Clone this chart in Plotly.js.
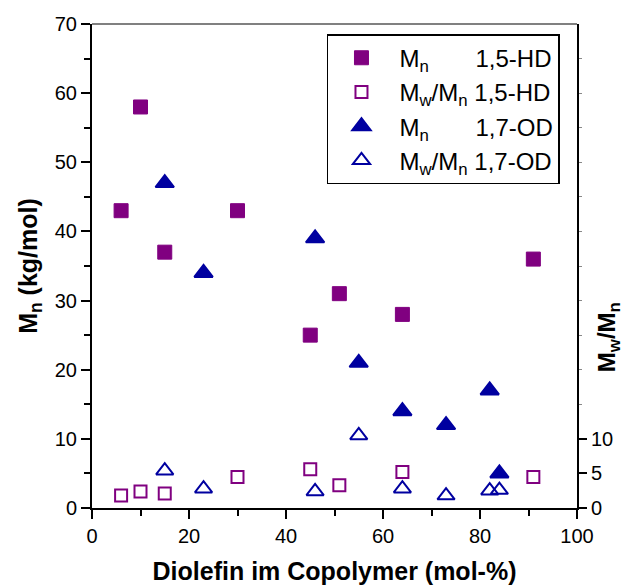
<!DOCTYPE html>
<html>
<head>
<meta charset="utf-8">
<script src="https://cdn.plot.ly/plotly-3.0.1.min.js"></script>
<style>html,body{margin:0;padding:0;background:#fff}#chart{width:626px;height:588px}</style>
</head>
<body>
<div id="chart"></div>
<script>
// Data
const xHD = [6, 10, 15, 30, 45, 51, 64, 91];
const mnHD = [43, 58, 37, 43, 25, 31, 28, 36];
const pdiHD = [1.8, 2.4, 2.1, 4.5, 5.6, 3.3, 5.2, 4.5];
const xOD = [15, 23, 46, 55, 64, 73, 82, 84];
const mnOD = [47, 34, 39, 21, 14, 12, 17, 5];
const pdiOD = [5.4, 2.8, 2.4, 10.5, 2.8, 1.8, 2.5, 2.6];
const names = [
  'M<sub>n</sub>&nbsp;&nbsp;&nbsp;&nbsp;&nbsp;&nbsp; 1,5-HD',
  'M<sub>w</sub>/M<sub>n</sub> 1,5-HD',
  'M<sub>n</sub>&nbsp;&nbsp;&nbsp;&nbsp;&nbsp;&nbsp; 1,7-OD',
  'M<sub>w</sub>/M<sub>n</sub> 1,7-OD'
];
const leftTicks = [0, 10, 20, 30, 40, 50, 60, 70];
const rightTicks = [0, 5, 10];
const xTicks = [0, 20, 40, 60, 80, 100];

const PURPLE = '#800080';
const NAVY = '#0000A0';
const FONT = 'Liberation Sans, Arial, sans-serif';

const traces = [
  {x: xHD, y: mnHD, name: names[0], type: 'scatter', mode: 'markers', yaxis: 'y',
   marker: {symbol: 'square', size: 14, color: PURPLE, line: {color: PURPLE, width: 1}}},
  {x: xHD, y: pdiHD, name: names[1], type: 'scatter', mode: 'markers', yaxis: 'y2',
   marker: {symbol: 'square-open', size: 12, color: PURPLE, line: {color: PURPLE, width: 2}}},
  {x: xOD, y: mnOD, name: names[2], type: 'scatter', mode: 'markers', yaxis: 'y',
   marker: {symbol: 'triangle-up', size: 16, color: NAVY, line: {color: NAVY, width: 2}}},
  {x: xOD, y: pdiOD, name: names[3], type: 'scatter', mode: 'markers', yaxis: 'y2',
   marker: {symbol: 'triangle-up-open', size: 15, color: NAVY, line: {color: NAVY, width: 2}}}
];

const layout = {
  width: 626, height: 588,
  margin: {l: 92, r: 49, t: 24, b: 80, pad: 0},
  paper_bgcolor: '#fff', plot_bgcolor: '#fff',
  font: {family: FONT, size: 20, color: '#000'},
  showlegend: true,
  legend: {
    x: 0.4845, y: 0.979, xanchor: 'left', yanchor: 'top',
    bordercolor: '#000', borderwidth: 1.5, bgcolor: '#fff',
    font: {family: FONT, size: 24, color: '#000'},
    itemwidth: 66, indentation: -5, tracegroupgap: 0
  },
  xaxis: {
    range: [0, 100], tickvals: xTicks, ticktext: xTicks.map(String),
    showgrid: false, zeroline: false, showline: true, linecolor: '#000', linewidth: 2,
    ticks: 'outside', ticklen: 9, tickwidth: 2, tickcolor: '#000',
    minor: {tickvals: [10, 30, 50, 70, 90], ticks: 'outside', ticklen: 6, tickwidth: 2, tickcolor: '#000'},
    tickfont: {family: FONT, size: 20},
    title: {text: '<b>Diolefin im Copolymer (mol-%)</b>', font: {family: FONT, size: 25}, standoff: 16}
  },
  yaxis: {
    range: [0, 70], tickvals: leftTicks, ticktext: leftTicks.map(String),
    showgrid: false, zeroline: false, showline: true, linecolor: '#000', linewidth: 2,
    ticks: 'outside', ticklen: 9, tickwidth: 2, tickcolor: '#000',
    minor: {tickvals: [5, 15, 25, 35, 45, 55, 65], ticks: 'outside', ticklen: 6, tickwidth: 2, tickcolor: '#000'},
    tickfont: {family: FONT, size: 20},
    title: {text: '<b>M<sub>n</sub> (kg/mol)</b>', font: {family: FONT, size: 25}, standoff: 10}
  },
  yaxis2: {
    overlaying: 'y', side: 'right', anchor: 'x',
    range: [0, 70], tickvals: rightTicks, ticktext: rightTicks.map(String),
    showgrid: false, zeroline: false, showline: true, linecolor: '#000', linewidth: 2,
    ticks: 'outside', ticklen: 8, tickwidth: 2, tickcolor: '#000',
    minor: {tickvals: [15, 20, 25, 30, 35, 40, 45, 50, 55, 60, 65], ticks: 'outside', ticklen: 3, tickwidth: 1, tickcolor: '#888'},
    tickfont: {family: FONT, size: 20}
  },
  shapes: [
    {type: 'line', xref: 'paper', yref: 'paper', x0: 0, x1: 1, y0: 1, y1: 1,
     line: {color: '#808080', width: 2}}
  ],
  annotations: [
    {text: '<b>M<sub>w</sub>/M<sub>n</sub></b>', xref: 'paper', yref: 'paper',
     x: 1.1, y: 0.353, xanchor: 'right', yanchor: 'middle', textangle: -90, showarrow: false,
     font: {family: FONT, size: 24, color: '#000'}}
  ]
};

Plotly.newPlot('chart', traces, layout, {displayModeBar: false, staticPlot: true});
</script>
</body>
</html>
